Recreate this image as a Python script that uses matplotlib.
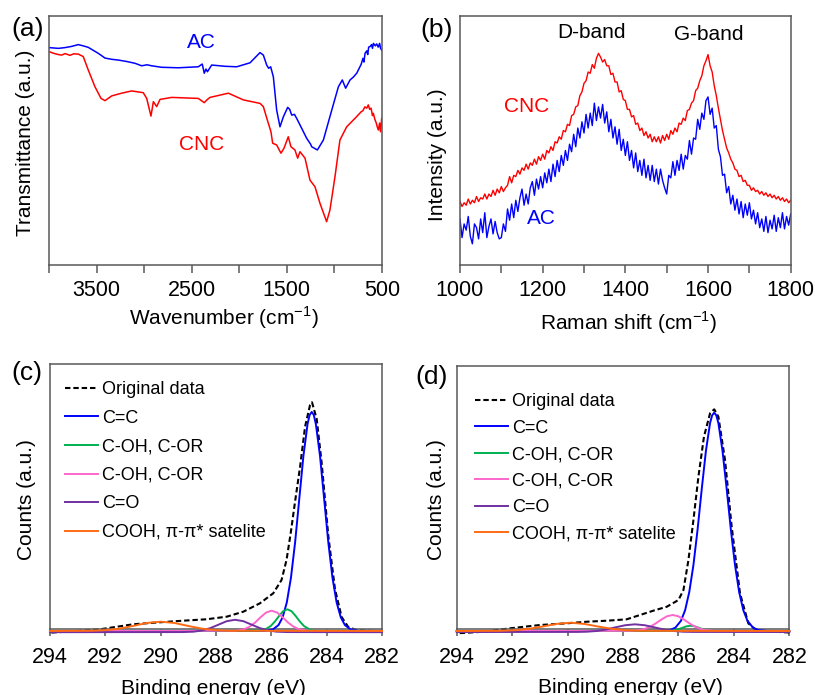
import matplotlib.pyplot as plt
import numpy as np
from matplotlib.lines import Line2D

plt.rcParams['font.family'] = ['Liberation Sans', 'DejaVu Sans']
plt.rcParams['mathtext.fontset'] = 'custom'
plt.rcParams['mathtext.rm'] = 'Liberation Sans'

# ---- (a) FTIR ----
ftir_ac_wn = [4000, 3900, 3832, 3760, 3692, 3640, 3587, 3482, 3411, 3340, 3271, 3180, 3096, 3026,
              2970, 2921, 2816, 2641, 2431, 2389, 2368, 2350, 2335, 2290, 2150, 2027, 1887, 1782,
              1747, 1712, 1691, 1670, 1642, 1607, 1572, 1537, 1491, 1470, 1449, 1420, 1397, 1344,
              1292, 1250, 1239, 1179, 1116, 1028, 958, 917, 882, 836, 800, 766, 720, 700, 690,
              678, 660, 650, 640, 626, 610, 600, 590, 570, 556, 540, 525, 515, 503]
ftir_ac = [87.3, 87.0, 87.3, 87.8, 88.5, 88.0, 87.4, 85.0, 83.1, 82.6, 82.3, 81.7, 81.0, 80.0,
           80.4, 80.0, 79.4, 79.2, 79.6, 80.7, 77.0, 78.7, 77.6, 80.3, 79.8, 79.6, 81.2, 85.3,
           84.3, 80.3, 79.0, 79.6, 75.6, 62.2, 55.5, 59.5, 63.3, 62.5, 60.2, 60.5, 58.9, 54.9,
           50.9, 48.5, 47.5, 46.2, 50.2, 62.2, 71.6, 74.3, 71.0, 74.3, 75.5, 77.0, 80.5, 83.0, 81.5,
           85.0, 86.0, 84.5, 87.5, 87.7, 88.5, 87.0, 89.0, 88.0, 88.8, 87.5, 89.0, 87.0, 86.3]

ftir_cnc_wn = [4000, 3950, 3900, 3867, 3830, 3780, 3740, 3692, 3640, 3587, 3517, 3453, 3411, 3341,
               3236, 3131, 3009, 2973, 2928, 2903, 2868, 2833, 2710, 2431, 2368, 2340, 2308, 2115,
               1957, 1782, 1747, 1705, 1667, 1649, 1607, 1562, 1530, 1485, 1457, 1415, 1386, 1362,
               1309, 1257, 1204, 1152, 1082, 1047, 994, 942, 871, 766, 720, 700, 680, 660, 644,
               630, 615, 600, 591, 575, 560, 550, 538, 525, 515, 503]
ftir_cnc = [85.7, 85.0, 84.5, 84.3, 84.9, 84.2, 84.8, 84.7, 83.7, 78.3, 71.6, 66.9, 66.0, 67.9,
            69.0, 69.9, 69.2, 66.9, 59.8, 65.6, 63.6, 66.5, 67.3, 66.9, 65.2, 66.3, 67.3, 69.0,
            66.3, 64.9, 63.6, 58.2, 53.5, 48.9, 48.2, 44.9, 46.9, 51.5, 47.5, 46.2, 42.9, 45.5,
            42.9, 34.1, 31.4, 24.8, 17.4, 22.1, 35.5, 50.2, 55.5, 59.6, 61.5, 62.0, 63.5, 63.0, 64.3,
            62.5, 63.0, 60.0, 60.9, 58.5, 57.0, 55.5, 54.2, 57.0, 53.5, 58.9]

ftir_ticks = [4000, 3500, 3000, 2500, 2000, 1500, 1000, 500]
ftir_ticklabels = ['', '3500', '', '2500', '', '1500', '', '500']

# ---- (b) Raman, sampled every 5 cm-1 from 1000 to 1800 ----
raman_shift = np.arange(1000, 1801, 5)
raman_cnc = [25.5, 23.5, 25.0, 24.0, 26.5, 24.5, 26.0, 25.0, 27.5, 25.5, 27.0, 26.5,
             28.5, 26.5, 28.5, 27.5, 30.0, 28.0, 30.5, 29.0, 31.5, 29.5, 31.0, 32.0,
             35.5, 33.0, 36.0, 35.5, 38.0, 36.5, 39.0, 38.0, 40.5, 38.5, 41.0, 40.0,
             42.5, 40.5, 43.5, 42.0, 44.5, 42.5, 46.0, 45.0, 47.5, 46.0, 49.5, 49.0,
             51.5, 50.5, 54.0, 53.5, 56.5, 56.0, 60.0, 60.5, 63.5, 64.0, 68.0, 69.5,
             73.0, 74.0, 77.5, 77.0, 80.5, 79.0, 83.0, 85.0, 83.5, 81.5, 82.5, 80.0,
             80.0, 76.5, 77.0, 73.5, 73.5, 69.5, 70.0, 66.5, 66.0, 62.5, 62.5, 59.5,
             60.0, 56.5, 57.0, 54.0, 55.0, 52.0, 53.5, 51.0, 52.5, 49.5, 51.5, 49.5,
             51.5, 49.0, 52.0, 50.0, 52.5, 50.5, 54.0, 52.5, 55.0, 53.5, 57.0, 56.5,
             59.0, 58.0, 62.0, 62.5, 65.0, 66.0, 70.0, 71.0, 74.0, 76.0, 80.0, 82.0,
             84.5, 80.0, 77.5, 72.0, 68.0, 63.0, 58.5, 54.0, 50.5, 47.0, 45.0, 42.5,
             41.0, 38.5, 38.0, 35.5, 36.0, 33.5, 34.0, 32.0, 32.0, 30.0, 31.0, 29.5,
             30.0, 28.5, 29.5, 28.0, 29.0, 27.5, 28.5, 27.0, 28.0, 26.5, 27.5, 26.0,
             27.0, 25.5, 26.5, 25.0, 26.0]
raman_ac = [18.5, 11.0, 16.5, 14.0, 19.5, 11.5, 8.5, 16.5, 15.0, 10.5, 18.5, 13.0,
            21.0, 11.0, 15.5, 18.5, 12.5, 17.5, 13.0, 10.5, 11.0, 16.5, 13.5, 22.5,
            18.0, 24.5, 19.0, 26.0, 21.5, 27.0, 30.5, 24.0, 28.5, 24.5, 31.0, 33.5,
            28.0, 34.5, 30.5, 35.5, 31.0, 37.0, 33.0, 38.5, 33.5, 40.5, 35.5, 42.0,
            37.5, 44.0, 40.0, 46.0, 42.0, 48.5, 45.5, 52.5, 47.5, 55.0, 51.0, 57.5,
            53.0, 60.5, 55.0, 61.0, 56.0, 65.0, 58.0, 63.5, 59.0, 64.5, 57.0, 61.5,
            53.5, 58.5, 51.0, 55.5, 48.5, 54.5, 46.0, 50.5, 44.0, 49.5, 42.0, 46.0,
            39.0, 45.0, 37.5, 42.0, 36.0, 42.5, 35.0, 40.0, 34.0, 40.0, 33.5, 38.5,
            32.5, 38.5, 34.0, 31.0, 28.5, 36.0, 35.0, 41.5, 36.0, 42.0, 38.0, 44.5,
            38.5, 44.0, 42.5, 50.0, 44.5, 51.0, 50.5, 58.5, 54.5, 61.0, 58.5, 66.0,
            67.5, 60.5, 63.0, 55.0, 56.0, 46.5, 43.5, 36.0, 36.5, 29.0, 31.5, 24.5,
            28.0, 22.0, 26.5, 20.5, 25.5, 19.0, 24.5, 20.0, 25.0, 18.5, 22.0, 16.5,
            21.0, 15.0, 18.5, 13.5, 19.5, 13.0, 18.0, 14.5, 20.0, 13.5, 19.0, 15.0,
            21.0, 14.5, 19.5, 16.0, 20.5]
raman_ticks = [1000, 1100, 1200, 1300, 1400, 1500, 1600, 1700, 1800]
raman_ticklabels = ['1000', '', '1200', '', '1400', '', '1600', '', '1800']

# ---- (c) XPS C1s, CNC ----
c_orig_e = [282.0, 282.92, 283.22, 283.46, 283.70, 283.94, 284.18, 284.36, 284.53, 284.60, 284.78,
            284.96, 285.15, 285.30, 285.45, 285.63, 285.93, 286.41, 287.01, 287.61, 288.34, 289.18,
            290.02, 290.99, 292.19, 293.40, 294.0]
c_orig = [-0.5, 0.8, 4.0, 14.0, 42.0, 95.0, 168.0, 212.0, 228.7, 226.0, 204.3,
          164.3, 127.7, 97.7, 71.0, 51.0, 37.7, 27.7, 19.3, 14.3, 11.7, 10.3,
          8.7, 6.7, 1.7, -0.7, -1.7]
c_cc_e = [282.0, 282.84, 283.14, 283.34, 283.49, 283.64, 283.79, 283.94, 284.09, 284.24, 284.39,
          284.465, 284.54, 284.615, 284.69, 284.84, 284.99, 285.14, 285.29, 285.44, 285.59, 285.74,
          285.94, 286.24, 294.0]
c_cc = [0, 0.1, 1.6, 5.9, 13.7, 28.6, 53.3, 88.6, 132, 175, 207,
        216, 219, 216, 207, 175, 132, 88.6, 53.3, 28.6, 13.7, 5.9,
        1.6, 0.1, 0]
c_coh1_e = [282.0, 284.42, 284.62, 284.82, 284.97, 285.12, 285.27, 285.42, 285.57, 285.72, 285.87,
            286.02, 286.22, 286.42, 294.0]
c_coh1 = [0, 0.4, 1.6, 5.0, 9.5, 15.0, 19.8, 21.7, 19.8, 15.0, 9.5, 5.0, 1.6, 0.4, 0]
c_coh2_e = [282.0, 284.69, 284.99, 285.19, 285.39, 285.59, 285.79, 285.99, 286.19, 286.39, 286.59,
            286.79, 286.99, 287.29, 294.0]
c_coh2 = [0, 0.3, 1.7, 4.2, 8.3, 13.7, 18.4, 20.3, 18.4, 13.7, 8.3, 4.2, 1.7, 0.3, 0]
c_co_e = [282.0, 285.41, 285.81, 286.11, 286.41, 286.71, 287.01, 287.31, 287.61, 287.91, 288.21,
          288.51, 288.81, 289.21, 294.0]
c_co = [-1.2, -1.1, -0.7, 0.5, 2.8, 6.3, 9.8, 11.2, 9.8, 6.3, 2.8, 0.5, -0.7, -1.1, -1.2]
c_cooh_e = [282.0, 287.5, 288.0, 288.5, 289.0, 289.5, 290.0, 290.5, 291.0, 291.5, 292.0, 292.5, 294.0]
c_cooh = [0, 0.2, 0.8, 2.3, 5.0, 8.0, 9.3, 8.0, 5.0, 2.3, 0.8, 0.2, 0]

# ---- (d) XPS C1s, AC ----
d_orig_e = [282.0, 283.18, 283.48, 283.78, 284.08, 284.32, 284.56, 284.71, 284.86, 285.08, 285.28,
            285.46, 285.64, 285.82, 286.00, 286.42, 286.91, 287.39, 287.87, 288.59, 289.31, 290.03,
            291.00, 292.08, 293.04, 294.0]
d_orig = [-1.5, 0.3, 7.7, 37.7, 104.3, 171.0, 214.3, 221.7, 217.7, 194.3, 154.3,
          111.0, 71.0, 41.0, 31.0, 24.3, 20.3, 16.0, 11.7, 10.3, 9.3, 7.7,
          6.0, 2.7, -0.7, -2.3]
d_cc_e = [282.0, 282.81, 283.11, 283.31, 283.51, 283.66, 283.81, 283.96, 284.11, 284.26, 284.41,
          284.56, 284.635, 284.71, 284.785, 284.86, 285.01, 285.16, 285.31, 285.46, 285.61, 285.76,
          285.91, 286.11, 286.31, 286.61, 294.0]
d_cc = [0, 0.1, 0.9, 3.4, 10.2, 20.8, 39.0, 66.0, 101.5, 142.0, 180.0,
        208.0, 215.7, 218.3, 215.7, 208.0, 180.0, 142.0, 101.5, 66.0, 39.0, 20.8,
        10.2, 3.4, 0.9, 0.1, 0]
d_coh1_e = [282.0, 284.76, 284.96, 285.11, 285.26, 285.41, 285.56, 285.71, 285.86, 286.01, 286.16,
            286.36, 294.0]
d_coh1 = [0, 0.15, 0.7, 1.7, 3.2, 4.7, 5.3, 4.7, 3.2, 1.7, 0.7, 0.15, 0]
d_coh2_e = [282.0, 284.71, 285.01, 285.21, 285.41, 285.61, 285.81, 286.01, 286.21, 286.41, 286.61,
            286.81, 287.01, 287.21, 287.41, 287.71, 294.0]
d_coh2 = [0, 0.2, 0.9, 2.2, 4.4, 7.8, 11.6, 14.8, 16.0, 14.8, 11.6, 7.8, 4.4, 2.2, 0.9, 0.2, 0]
d_co_e = [282.0, 285.47, 285.82, 286.17, 286.52, 286.87, 287.22, 287.57, 287.92, 288.27, 288.62,
          288.97, 289.32, 289.67, 294.0]
d_co = [-1.0, -0.9, -0.7, 0.0, 1.5, 3.7, 5.8, 6.7, 5.8, 3.7, 1.5, 0.0, -0.7, -0.9, -1.0]
d_cooh_e = [282.0, 287.4, 287.9, 288.4, 288.9, 289.4, 289.9, 290.4, 290.9, 291.4, 291.9, 292.4, 294.0]
d_cooh = [0, 0.2, 0.8, 2.2, 4.5, 7.1, 8.3, 7.1, 4.5, 2.2, 0.8, 0.2, 0]

xps_ticks = [294, 292, 290, 288, 286, 284, 282]
xps_labels = ['Original data', 'C=C', 'C-OH, C-OR', 'C-OH, C-OR', 'C=O', 'COOH, \u03c0-\u03c0* satelite']
xps_colors = ['black', '#0000FF', '#00B050', '#FF66CC', '#7030A0', '#FF6A13']

BLUE = '#0000FF'
RED = '#FF0000'
SPINE = '#595959'
LABEL_FS = 15
cm_label = '(cm$^{\\mathregular{\u22121}}$)'


def style_box(ax, tick_len, tick_pad):
    for s in ax.spines.values():
        s.set_color(SPINE)
        s.set_linewidth(1.1)
    ax.tick_params(axis='y', left=False, labelleft=False)
    ax.tick_params(axis='x', direction='out', length=tick_len, width=1.1, color=SPINE,
                   labelsize=15.5, pad=tick_pad)


def xps_panel(ax, curves, legend_anchor, spacing):
    e_orig, v_orig = curves[0]
    ax.plot(e_orig, v_orig, color='black', lw=1.5, dashes=(2.6, 1.4), clip_on=False, zorder=2)
    for (e, v), col in zip(curves[1:], xps_colors[1:]):
        ax.plot(e, v, color=col, lw=1.4, clip_on=False, zorder=3)
    ax.set_xlim(294, 282)
    ax.set_xticks(xps_ticks)
    style_box(ax, 5, 8)
    handles = [Line2D([], [], color='black', lw=1.5, dashes=(2.6, 1.4))]
    handles += [Line2D([], [], color=c, lw=1.4) for c in xps_colors[1:]]
    ax.legend(handles, xps_labels, loc='upper left', bbox_to_anchor=legend_anchor,
              frameon=False, fontsize=13, handlelength=1.85, handletextpad=0.22,
              labelspacing=spacing, borderpad=0, borderaxespad=0)


fig = plt.figure(figsize=(8.15, 6.95), dpi=100)

# (a)
ax_a = fig.add_axes([0.0601, 0.6187, 0.4086, 0.3583])
ax_a.plot(ftir_ac_wn, ftir_ac, color=BLUE, lw=1.1)
ax_a.plot(ftir_cnc_wn, ftir_cnc, color=RED, lw=1.1)
ax_a.set_xlim(4000, 500)
ax_a.set_ylim(0, 100)
ax_a.set_xticks(ftir_ticks)
ax_a.set_xticklabels(ftir_ticklabels)
style_box(ax_a, 6, 5)
ax_a.text(0.459, 0.892, 'AC', color=BLUE, fontsize=LABEL_FS, ha='center', va='center', transform=ax_a.transAxes)
ax_a.text(0.459, 0.482, 'CNC', color=RED, fontsize=LABEL_FS, ha='center', va='center', transform=ax_a.transAxes)

# (b)
ax_b = fig.add_axes([0.5644, 0.6187, 0.4058, 0.3583])
ax_b.plot(raman_shift, raman_ac, color=BLUE, lw=1.0)
ax_b.plot(raman_shift, raman_cnc, color=RED, lw=1.0)
ax_b.set_xlim(1000, 1800)
ax_b.set_ylim(0, 100)
ax_b.set_xticks(raman_ticks)
ax_b.set_xticklabels(raman_ticklabels)
style_box(ax_b, 6, 5)
ax_b.text(0.399, 0.932, 'D-band', color='black', fontsize=LABEL_FS, ha='center', va='center', transform=ax_b.transAxes)
ax_b.text(0.753, 0.924, 'G-band', color='black', fontsize=LABEL_FS, ha='center', va='center', transform=ax_b.transAxes)
ax_b.text(0.200, 0.635, 'CNC', color=RED, fontsize=LABEL_FS, ha='center', va='center', transform=ax_b.transAxes)
ax_b.text(0.245, 0.185, 'AC', color=BLUE, fontsize=LABEL_FS, ha='center', va='center', transform=ax_b.transAxes)

# (c)
ax_c = fig.add_axes([0.0613, 0.0950, 0.4074, 0.3813])
ax_c.set_ylim(2, 267)
xps_panel(ax_c, [(c_orig_e, c_orig), (c_cc_e, c_cc), (c_coh1_e, c_coh1), (c_coh2_e, c_coh2),
                 (c_co_e, c_co), (c_cooh_e, c_cooh)], (0.045, 0.935), 0.64)

# (d)
ax_d = fig.add_axes([0.5604, 0.0945, 0.4081, 0.3793])
ax_d.set_ylim(1.7, 265.3)
xps_panel(ax_d, [(d_orig_e, d_orig), (d_cc_e, d_cc), (d_coh1_e, d_coh1), (d_coh2_e, d_coh2),
                 (d_co_e, d_co), (d_cooh_e, d_cooh)], (0.055, 0.895), 0.52)

# axis titles and panel letters
fig.text(0.2748, 0.5424, 'Wavenumber ' + cm_label, fontsize=LABEL_FS, ha='center', va='center')
fig.text(0.7706, 0.5353, 'Raman shift ' + cm_label, fontsize=LABEL_FS, ha='center', va='center')
fig.text(0.2620, 0.0225, 'Binding energy (eV)', fontsize=LABEL_FS, ha='center', va='top')
fig.text(0.7740, 0.0250, 'Binding energy (eV)', fontsize=LABEL_FS, ha='center', va='top')
fig.text(0.0310, 0.794, 'Transmittance (a.u.)', fontsize=LABEL_FS, rotation=90, ha='center', va='center')
fig.text(0.5374, 0.778, 'Intensity (a.u.)', fontsize=LABEL_FS, rotation=90, ha='center', va='center')
fig.text(0.0331, 0.2806, 'Counts (a.u.)', fontsize=LABEL_FS, rotation=90, ha='center', va='center')
fig.text(0.5360, 0.2806, 'Counts (a.u.)', fontsize=LABEL_FS, rotation=90, ha='center', va='center')
for x, y, s in [(0.0337, 0.9583, '(a)'), (0.5362, 0.9568, '(b)'),
                (0.0331, 0.4633, '(c)'), (0.5300, 0.4576, '(d)')]:
    fig.text(x, y, s, fontsize=19, ha='center', va='center')

fig.savefig('out.png', dpi=100)
